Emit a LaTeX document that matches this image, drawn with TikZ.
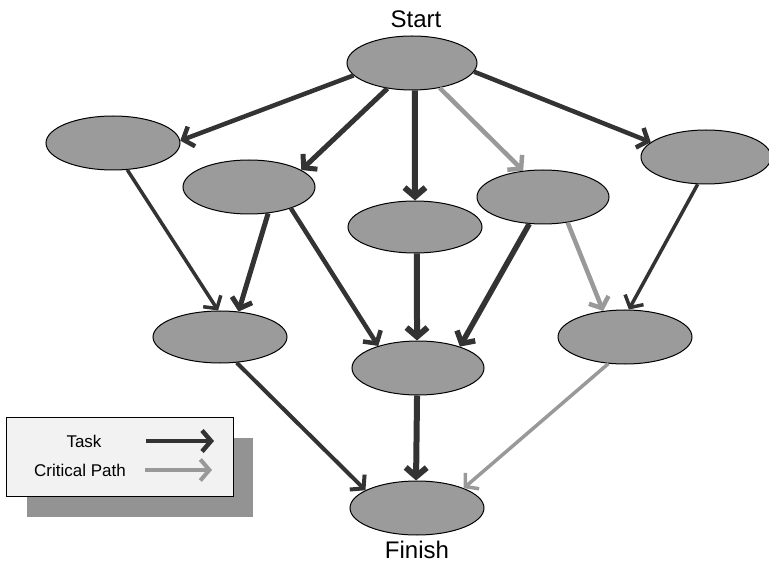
\documentclass[tikz,border=0pt]{standalone}
\usepackage{fontspec}
\setmainfont{Liberation Sans}
\usetikzlibrary{shapes.geometric,arrows.meta}
\definecolor{darkarrow}{HTML}{333333}
\definecolor{critgray}{HTML}{999999}
\definecolor{taskfill}{HTML}{9B9B9B}
\definecolor{legendfill}{HTML}{F2F2F2}
\definecolor{shadowgray}{HTML}{939393}
\begin{document}
\begin{tikzpicture}[x=1pt,y=-1pt,
  taskbox/.style={ellipse, draw=black, line width=1pt, fill=taskfill, inner sep=0pt,
                  minimum width=133pt, minimum height=54pt},
  arr/.style={draw=darkarrow, line width=#1, -{Straight Barb[length=9pt,width=21pt,sharp]}},
  arr/.default=4.5pt,
  crit/.style={draw=critgray, line width=#1, -{Straight Barb[length=9pt,width=21pt,sharp]}},
  crit/.default=4.5pt,
  lbl/.style={font=\fontsize{24}{28}\selectfont, inner sep=0pt},
  legtext/.style={font=\fontsize{17}{20}\selectfont, inner sep=0pt}]
\useasboundingbox (0,0) rectangle (769,564);

\node[taskbox, minimum width=130pt] (S) at (412,63) {};
\node[taskbox, minimum width=134pt] (A) at (113,143) {};
\node[taskbox, minimum width=132pt] (B) at (249,187) {};
\node[taskbox, minimum width=134pt, minimum height=52pt] (C) at (415,227) {};
\node[taskbox, minimum width=132pt] (D) at (543,197) {};
\node[taskbox, minimum width=130pt] (E) at (706,157) {};
\node[taskbox, minimum width=134pt, minimum height=52pt] (F) at (220,337) {};
\node[taskbox, minimum width=132pt] (G) at (418,368) {};
\node[taskbox, minimum width=134pt] (H) at (625,337) {};
\node[taskbox, minimum width=134pt] (Fin) at (417,508) {};

\draw[arr=4.5pt] (S.192) -- (A.2);
\draw[arr=5pt]   (S.226) -- (B.18);
\draw[arr=6pt]   (S.276) -- (C.north);
\draw[crit=4.5pt] (S.318) -- (D.127);
\draw[arr=4.5pt] (S.352) -- (E.165);
\draw[arr=3.5pt] (A.298) -- (F.94);
\draw[arr=5pt]   (B.306) -- (F.54);
\draw[arr=4.5pt] (B.333) -- (G.151);
\draw[arr=6pt]   (C.274) -- (G.92);
\draw[arr=5.5pt] (D.243) -- (G.27);
\draw[crit=4.5pt] (D.314) -- (H.130);
\draw[arr=3.5pt] (E.253) -- (H.82);
\draw[arr=4pt]   (F.303) -- (Fin.161);
\draw[arr=6pt]   (G.268) -- (Fin.92);
\draw[crit=3.5pt] (H.238) -- (Fin.23);

\node[lbl, anchor=base] (startlbl) at (416,28) {Start};
\node[lbl, anchor=base] (finlbl) at (417,558) {Finish};

% legend
\node[fill=shadowgray, inner sep=0pt, minimum width=226pt, minimum height=79pt,
      anchor=north west] (legshadow) at (27,438) {};
\node[draw=black, line width=0.8pt, fill=legendfill, inner sep=0pt,
      minimum width=227pt, minimum height=79pt, anchor=north west] (legbox) at (6,417) {};
\node[legtext] (tasklbl) at (84,441) {Task};
\node[legtext] (critlbl) at (80,470) {Critical Path};
\coordinate (t1) at (146,441);
\coordinate (t2) at (214,441);
\coordinate (c1) at (145,470);
\coordinate (c2) at (212,470);
\draw[arr=4.5pt] (t1) -- (t2);
\draw[crit=4pt] (c1) -- (c2);
\end{tikzpicture}
\end{document}
